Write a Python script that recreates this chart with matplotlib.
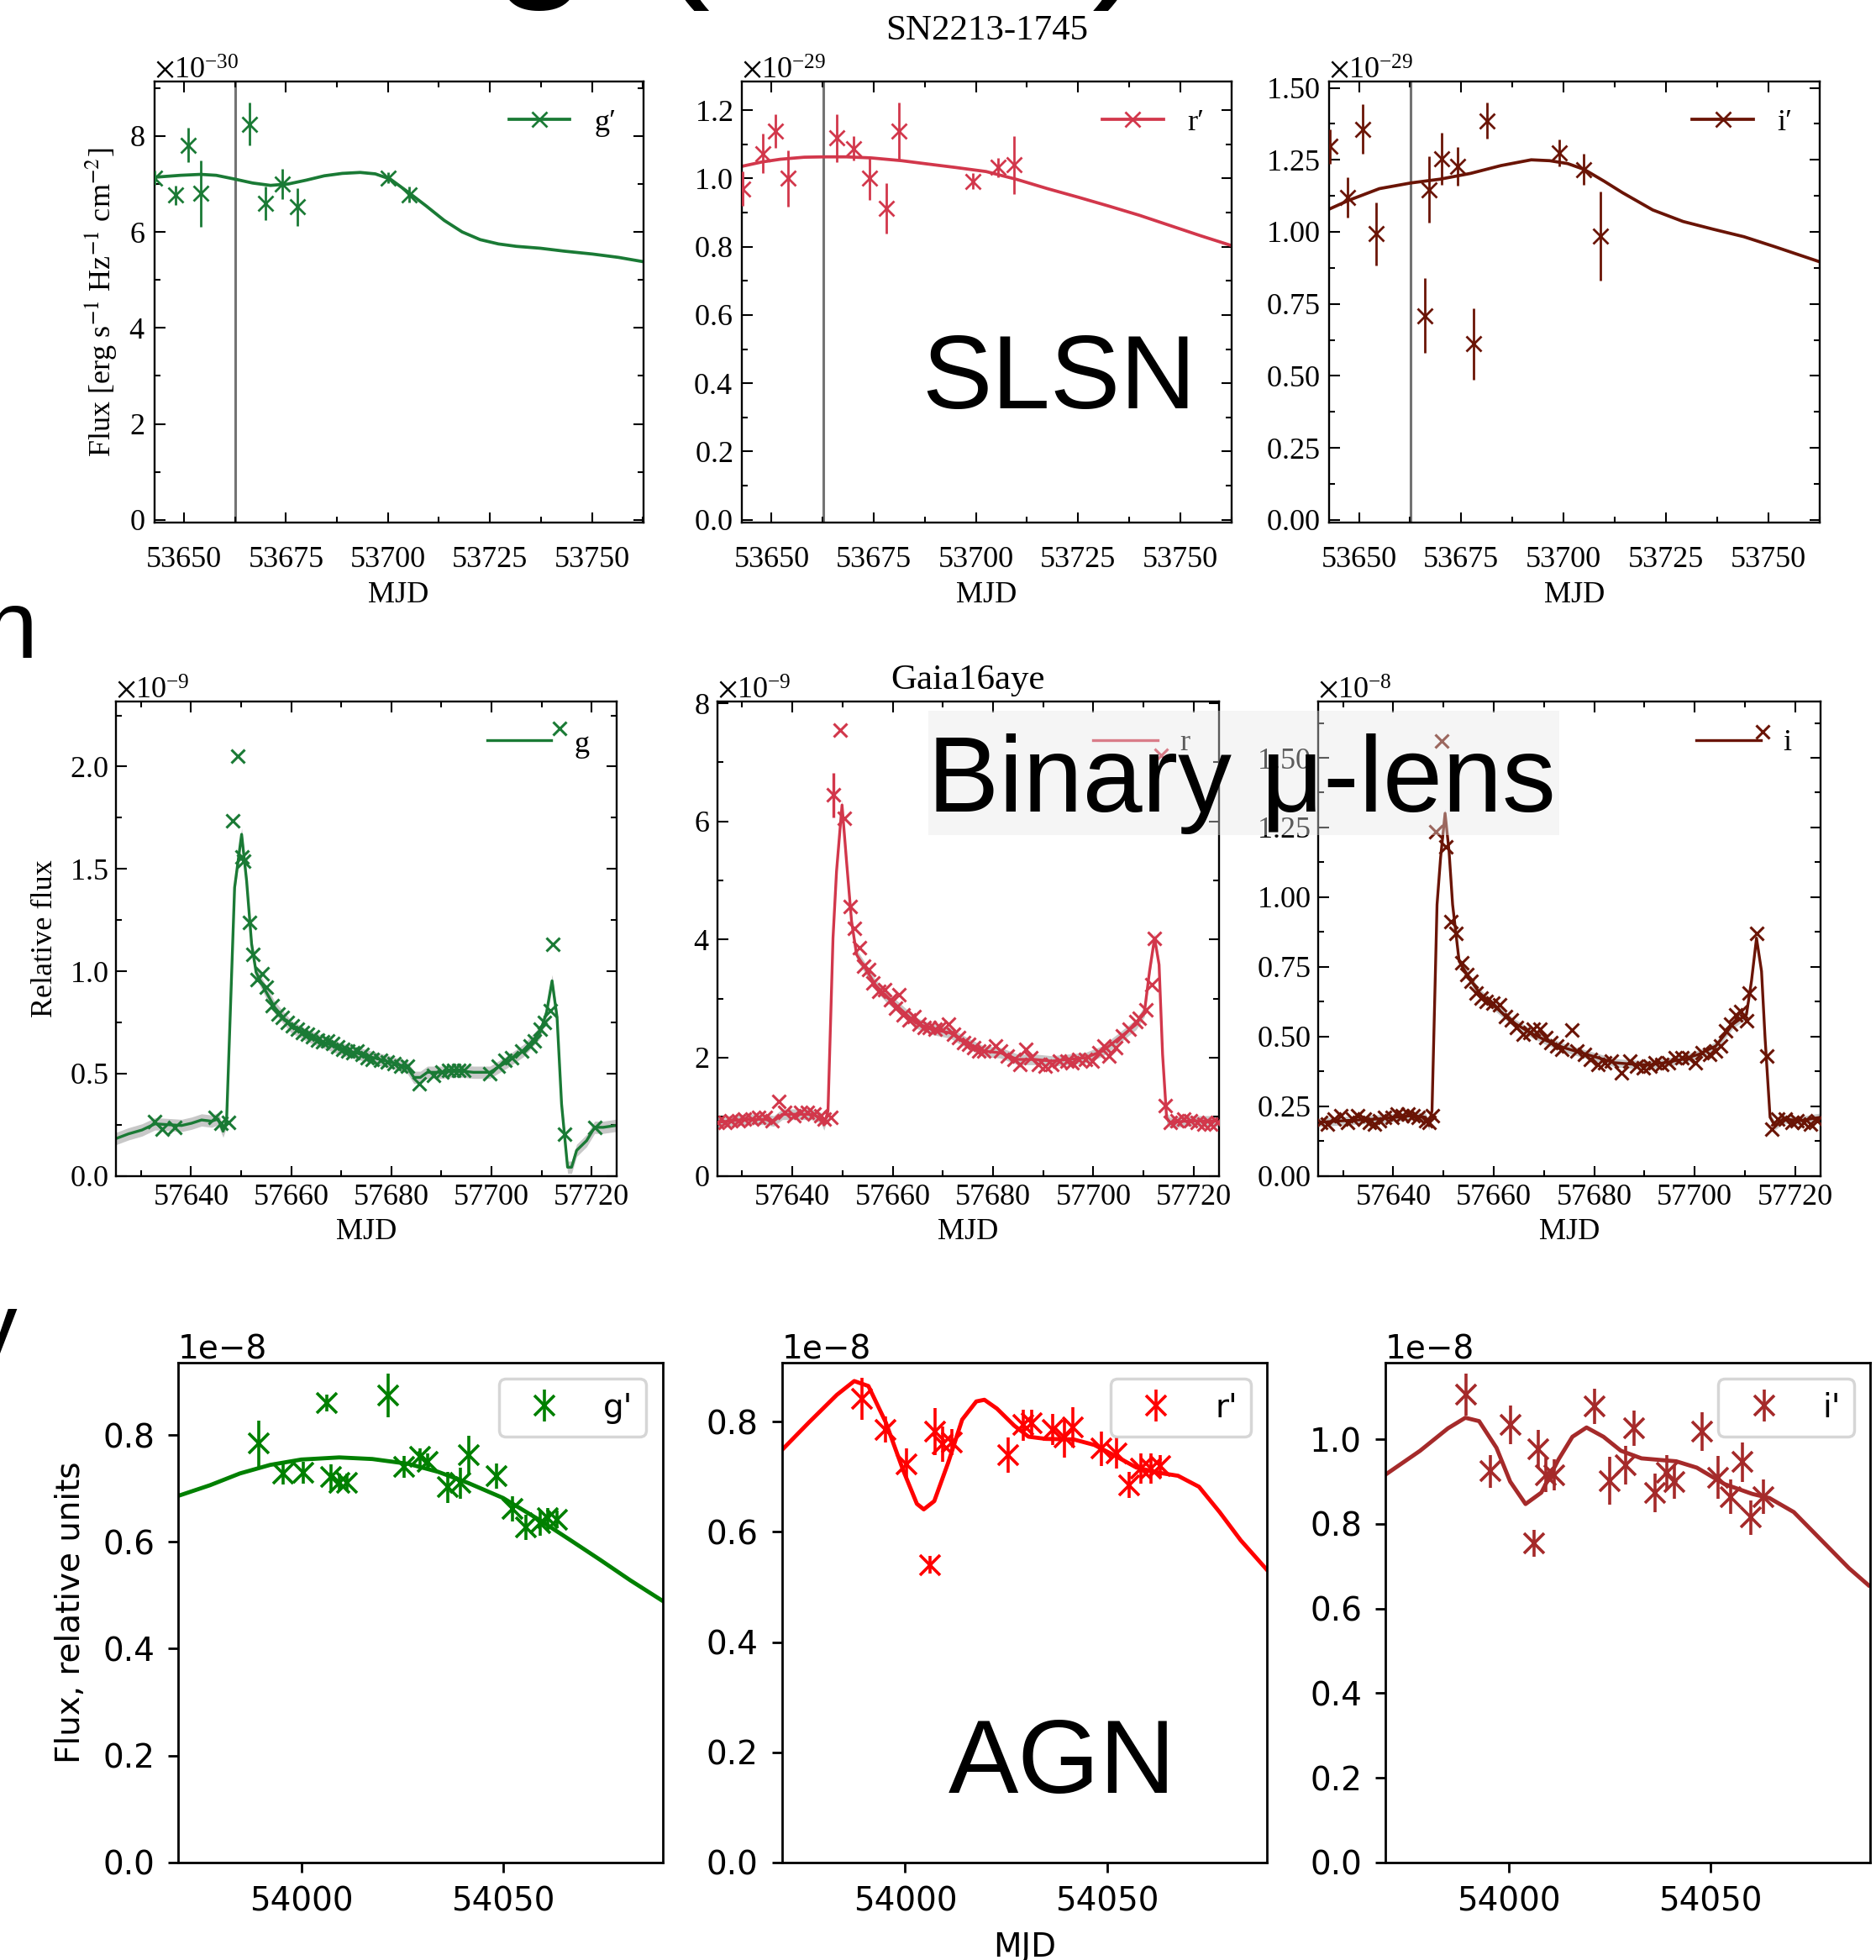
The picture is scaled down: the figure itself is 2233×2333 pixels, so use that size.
import numpy as np
import matplotlib
matplotlib.use('Agg')
import matplotlib.pyplot as plt
from matplotlib.ticker import MultipleLocator, ScalarFormatter
from matplotlib.lines import Line2D
from matplotlib.patches import Rectangle

plt.rcParams['font.family'] = ['Liberation Serif', 'DejaVu Serif']
plt.rcParams['mathtext.fontset'] = 'stix'
plt.rcParams['axes.formatter.useoffset'] = False
plt.rcParams['axes.unicode_minus'] = True

# ---------------- Row 1: SN2213-1745 (SLSN) ----------------
sn_explosion_mjd = 53662.6
g1_mjd = [53642.8, 53647.9, 53651.0, 53654.1, 53666.0, 53670.0, 53674.0, 53677.9, 53700.0, 53705.1]
g1_flux = [7.13, 6.77, 7.81, 6.80, 8.25, 6.60, 7.00, 6.52, 7.13, 6.78]
g1_err = [0.15, 0.20, 0.36, 0.69, 0.45, 0.35, 0.32, 0.40, 0.12, 0.16]
g1_model_mjd = [53642.8, 53649.1, 53654.1, 53657.9, 53662.5, 53666.8, 53671.2, 53675.6, 53680.0, 53684.4,
                53688.8, 53693.2, 53696.9, 53700.6, 53705.1, 53709.4, 53713.8, 53718.2, 53722.6, 53727.1,
                53731.5, 53737.4, 53743.2, 53750.1, 53756.5, 53762.6]
g1_model = [7.14, 7.18, 7.20, 7.18, 7.10, 7.02, 6.97, 7.00, 7.08, 7.17, 7.22, 7.24, 7.21, 7.10, 6.82, 6.54,
            6.24, 6.00, 5.84, 5.75, 5.70, 5.66, 5.60, 5.54, 5.47, 5.38]

r1_mjd = [53642.9, 53647.8, 53650.9, 53654.0, 53666.0, 53670.0, 53674.0, 53678.0, 53681.2, 53699.2, 53705.4, 53709.4]
r1_flux = [0.97, 1.073, 1.139, 1.0, 1.118, 1.088, 1.0, 0.913, 1.139, 0.992, 1.032, 1.04]
r1_err = [0.05, 0.058, 0.05, 0.082, 0.07, 0.036, 0.062, 0.074, 0.083, 0.023, 0.028, 0.085]
r1_model_mjd = [53642.6, 53647.6, 53652.1, 53658.0, 53662.7, 53668.3, 53674.3, 53681.7, 53687.6, 53695.0,
                53702.5, 53710.0, 53717.5, 53725.0, 53732.5, 53740.0, 53747.5, 53755.0, 53763.4]
r1_model = [1.035, 1.048, 1.056, 1.062, 1.063, 1.063, 1.060, 1.052, 1.043, 1.032, 1.020, 0.997, 0.970,
            0.945, 0.919, 0.892, 0.862, 0.832, 0.800]

i1_mjd = [53642.9, 53647.2, 53651.0, 53654.2, 53666.2, 53667.1, 53670.2, 53674.2, 53678.0, 53681.2, 53699.0, 53705.0, 53709.0]
i1_flux = [1.297, 1.120, 1.357, 0.993, 0.709, 1.147, 1.254, 1.227, 0.611, 1.386, 1.273, 1.217, 0.985]
i1_err = [0.06, 0.07, 0.087, 0.11, 0.13, 0.116, 0.09, 0.067, 0.123, 0.063, 0.047, 0.055, 0.154]
i1_model_mjd = [53642.9, 53647.6, 53655.0, 53662.8, 53669.9, 53677.3, 53684.7, 53692.1, 53696.6, 53701.0,
                53705.0, 53709.9, 53714.4, 53721.8, 53729.2, 53736.6, 53744.1, 53751.5, 53762.6]
i1_model = [1.080, 1.110, 1.150, 1.170, 1.183, 1.203, 1.230, 1.250, 1.247, 1.237, 1.217, 1.176, 1.136,
            1.076, 1.036, 1.009, 0.983, 0.949, 0.896]

# ---------------- Row 2: Gaia16aye (binary microlens) ----------------
g2_mjd = [57632.8, 57634.2, 57636.7, 57644.8, 57645.9, 57647.5, 57648.3, 57649.4, 57650.1, 57650.5,
          57651.6, 57652.4, 57653.2, 57654.2, 57655.1, 57656.2, 57657.4, 57658.3, 57659.3, 57660.3,
          57661.3, 57662.3, 57663.3, 57664.3, 57665.3, 57666.3, 57667.3, 57668.3, 57669.3, 57670.3,
          57671.3, 57672.3, 57673.2, 57674.2, 57675.2, 57676.2, 57677.9, 57679.2, 57680.5, 57681.9,
          57683.2, 57685.5, 57688.5, 57690.1, 57691.5, 57692.5, 57693.4, 57694.4, 57699.7, 57701.4,
          57702.7, 57704.0, 57706.0, 57707.7, 57708.5, 57709.7, 57710.5, 57711.7, 57712.3, 57714.6, 57720.6]
g2_flux = [0.267, 0.229, 0.237, 0.286, 0.257, 0.262, 1.734, 2.051, 1.558, 1.539,
           1.238, 1.083, 0.961, 0.986, 0.921, 0.831, 0.790, 0.774, 0.750, 0.734,
           0.717, 0.701, 0.693, 0.680, 0.664, 0.657, 0.660, 0.647, 0.631, 0.620,
           0.612, 0.603, 0.612, 0.595, 0.579, 0.571, 0.563, 0.555, 0.547, 0.538,
           0.538, 0.449, 0.490, 0.506, 0.514, 0.517, 0.514, 0.514, 0.498, 0.538,
           0.563, 0.579, 0.612, 0.636, 0.660, 0.717, 0.750, 0.807, 1.132, 0.205, 0.237]
g2_model_mjd = [57624.9, 57627.5, 57630.2, 57632.8, 57635.5, 57638.1, 57640.1, 57642.1, 57644.1, 57645.4,
                57646.4, 57647.1, 57648.7, 57650.1, 57651.1, 57652.1, 57653.0, 57654.7, 57656.7, 57660.0,
                57663.3, 57666.6, 57669.9, 57673.2, 57676.6, 57679.9, 57683.2, 57684.5, 57685.8, 57687.2,
                57689.8, 57693.1, 57696.4, 57699.7, 57703.0, 57706.4, 57709.7, 57711.0, 57712.1, 57713.1,
                57714.0, 57715.2, 57716.0, 57717.0, 57719.0, 57720.6, 57722.3, 57724.8]
g2_model = [0.181, 0.205, 0.224, 0.254, 0.250, 0.246, 0.257, 0.273, 0.267, 0.278,
            0.218, 0.270, 1.409, 1.669, 1.441, 1.132, 0.994, 0.912, 0.823, 0.729,
            0.685, 0.652, 0.620, 0.599, 0.576, 0.555, 0.530, 0.481, 0.481, 0.506,
            0.506, 0.514, 0.506, 0.506, 0.555, 0.612, 0.701, 0.799, 0.953, 0.774,
            0.351, 0.042, 0.042, 0.124, 0.172, 0.237, 0.237, 0.246]
g2_band = 0.03

r2_mjd = [57625.1, 57626.5, 57627.8, 57629.2, 57630.5, 57631.9, 57633.2, 57634.6, 57636.0, 57637.3,
          57638.4, 57640.3, 57641.7, 57643.0, 57644.4, 57645.7, 57646.4, 57647.6, 57648.1, 57649.5,
          57650.3, 57651.5, 57652.3, 57653.3, 57654.2, 57655.2, 57656.0, 57657.2, 57658.4, 57659.6,
          57660.6, 57661.3, 57662.1, 57663.3, 57664.3, 57665.3, 57666.3, 57667.3, 57668.4, 57669.4,
          57671.1, 57672.1, 57673.1, 57674.1, 57675.1, 57676.1, 57677.1, 57678.1, 57680.5, 57681.5,
          57682.9, 57684.2, 57685.4, 57686.6, 57687.6, 57689.0, 57690.3, 57691.7, 57693.3, 57694.7,
          57695.7, 57697.1, 57698.4, 57699.8, 57701.1, 57702.1, 57703.1, 57704.5, 57705.8, 57707.2,
          57708.5, 57709.2, 57710.4, 57711.7, 57712.2, 57714.3, 57715.3, 57716.6, 57718.0, 57719.3,
          57720.7, 57722.0, 57723.4, 57724.7]
r2_flux = [0.901, 0.901, 0.929, 0.929, 0.957, 0.957, 0.985, 0.985, 0.929, 1.267,
           1.070, 1.014, 1.070, 1.070, 1.042, 1.014, 0.957, 0.985, 6.447, 7.545,
           6.053, 4.561, 4.195, 3.857, 3.547, 3.491, 3.266, 3.125, 3.153, 2.984,
           2.843, 3.069, 2.731, 2.646, 2.703, 2.562, 2.506, 2.506, 2.477, 2.506,
           2.562, 2.393, 2.337, 2.252, 2.224, 2.168, 2.111, 2.111, 2.196, 2.111,
           2.027, 1.971, 1.886, 2.140, 1.999, 1.886, 1.858, 1.886, 1.943, 1.943,
           1.914, 1.971, 1.971, 1.943, 2.083, 2.196, 2.027, 2.168, 2.365, 2.477,
           2.618, 2.675, 2.815, 3.238, 4.026, 1.182, 0.901, 0.929, 0.957, 0.929,
           0.901, 0.873, 0.873, 0.901]
r2_bigerr_mjd = [57648.1]
r2_bigerr_flux = [6.447]
r2_bigerr = [0.38]
r2_model_mjd = [57624.8, 57627.5, 57630.9, 57634.3, 57636.3, 57638.0, 57641.0, 57643.7, 57645.7, 57646.3,
                57647.1, 57648.1, 57648.8, 57649.9, 57650.8, 57651.8, 57652.8, 57654.5, 57656.5, 57658.6,
                57661.3, 57664.6, 57668.0, 57671.4, 57674.8, 57678.1, 57681.5, 57684.9, 57688.3, 57691.7,
                57695.0, 57698.4, 57701.8, 57705.2, 57708.5, 57710.2, 57711.2, 57712.2, 57713.1, 57713.8,
                57714.6, 57715.3, 57718.7, 57722.0, 57725.1]
r2_model = [0.901, 0.929, 0.957, 0.957, 0.929, 1.042, 1.042, 1.042, 0.985, 0.861,
            1.098, 4.026, 5.152, 6.278, 5.321, 4.307, 3.744, 3.519, 3.238, 3.041,
            2.843, 2.590, 2.477, 2.421, 2.252, 2.111, 2.083, 1.971, 1.971, 1.943,
            1.971, 1.999, 2.111, 2.337, 2.562, 2.787, 3.463, 4.026, 3.575, 2.055,
            0.985, 0.901, 0.929, 0.929, 0.929]
r2_band = 0.09

i2_mjd = [57625.5, 57626.9, 57628.2, 57629.6, 57630.9, 57631.9, 57632.9, 57634.3, 57635.3, 57636.3,
          57637.3, 57638.3, 57639.7, 57640.7, 57641.7, 57643.0, 57644.0, 57645.0, 57646.4, 57647.1,
          57647.7, 57648.4, 57649.6, 57650.4, 57651.4, 57652.4, 57653.6, 57654.6, 57655.5, 57656.5,
          57657.5, 57658.5, 57659.8, 57661.2, 57662.4, 57663.5, 57664.5, 57665.9, 57667.1, 57667.9,
          57669.2, 57670.3, 57671.4, 57672.6, 57673.6, 57675.6, 57676.6, 57678.0, 57679.3, 57680.7,
          57682.0, 57683.4, 57685.4, 57687.1, 57688.4, 57689.7, 57691.1, 57692.1, 57693.4, 57694.8,
          57696.1, 57697.5, 57698.8, 57700.2, 57701.5, 57702.9, 57704.2, 57705.2, 57706.2, 57707.2,
          57708.2, 57709.2, 57710.3, 57710.9, 57712.3, 57714.3, 57715.3, 57716.6, 57718.0, 57719.3,
          57720.3, 57721.7, 57723.0, 57724.4]
i2_flux = [0.192, 0.186, 0.204, 0.216, 0.192, 0.204, 0.216, 0.204, 0.192, 0.186,
           0.198, 0.210, 0.210, 0.222, 0.216, 0.222, 0.216, 0.210, 0.198, 0.192,
           0.216, 1.235, 1.559, 1.181, 0.913, 0.871, 0.764, 0.722, 0.699, 0.657,
           0.639, 0.627, 0.621, 0.615, 0.573, 0.561, 0.532, 0.508, 0.514, 0.526,
           0.526, 0.496, 0.478, 0.466, 0.454, 0.522, 0.448, 0.436, 0.418, 0.401,
           0.406, 0.412, 0.371, 0.412, 0.395, 0.389, 0.395, 0.406, 0.401, 0.406,
           0.424, 0.424, 0.424, 0.406, 0.442, 0.436, 0.448, 0.466, 0.520, 0.544,
           0.579, 0.591, 0.555, 0.657, 0.871, 0.430, 0.168, 0.204, 0.204, 0.192,
           0.198, 0.192, 0.186, 0.198]
i2_model_mjd = [57625.0, 57630.3, 57637.0, 57643.7, 57646.4, 57647.1, 57647.7, 57648.7, 57649.4, 57650.3,
                57651.1, 57651.8, 57653.1, 57655.1, 57657.1, 57660.5, 57663.9, 57667.2, 57670.6, 57673.9,
                57677.3, 57680.7, 57684.0, 57687.4, 57690.8, 57694.1, 57697.5, 57700.8, 57704.2, 57707.6,
                57710.3, 57711.3, 57712.3, 57713.3, 57714.0, 57715.0, 57716.0, 57717.6, 57721.0, 57725.0]
i2_model = [0.192, 0.198, 0.204, 0.216, 0.210, 0.180, 0.234, 0.973, 1.140, 1.301,
            1.163, 0.973, 0.770, 0.710, 0.657, 0.603, 0.550, 0.514, 0.484, 0.460,
            0.442, 0.424, 0.406, 0.401, 0.398, 0.406, 0.418, 0.436, 0.466, 0.544,
            0.579, 0.699, 0.853, 0.734, 0.496, 0.210, 0.180, 0.204, 0.198, 0.210]
i2_band = 0.015

# ---------------- Row 3: AGN ----------------
g3_mjd = [53989.4, 53995.4, 54000.4, 54006.4, 54007.3, 54009.4, 54011.3, 54021.6, 54025.4, 54029.5,
          54031.3, 54036.2, 54039.4, 54041.5, 54048.4, 54052.4, 54055.7, 54059.2, 54061.0, 54063.4]
g3_flux = [0.784, 0.728, 0.729, 0.860, 0.721, 0.711, 0.711, 0.874, 0.740, 0.759,
           0.750, 0.702, 0.710, 0.762, 0.723, 0.662, 0.627, 0.635, 0.644, 0.642]
g3_err = [0.043, 0.02, 0.02, 0.016, 0.024, 0.016, 0.016, 0.041, 0.02, 0.016,
          0.016, 0.029, 0.029, 0.037, 0.024, 0.024, 0.024, 0.024, 0.02, 0.016]
g3_model_mjd = [53969.5, 53977.4, 53984.8, 53992.3, 54000.0, 54009.4, 54017.6, 54026.5, 54033.9, 54041.4,
                54050.0, 54059.2, 54066.7, 54074.1, 54081.5, 54089.6]
g3_model = [0.686, 0.706, 0.728, 0.744, 0.754, 0.758, 0.755, 0.746, 0.731, 0.710,
            0.682, 0.640, 0.603, 0.566, 0.528, 0.489]

r3_mjd = [53989.4, 53995.1, 54000.3, 54006.2, 54007.3, 54009.3, 54011.5, 54025.4, 54029.3, 54031.4,
          54036.4, 54039.4, 54041.4, 54048.5, 54052.2, 54055.5, 54058.4, 54060.8, 54063.2]
r3_flux = [0.842, 0.786, 0.723, 0.540, 0.782, 0.759, 0.763, 0.739, 0.794, 0.798,
           0.786, 0.771, 0.790, 0.751, 0.743, 0.685, 0.715, 0.715, 0.719]
r3_err = [0.038, 0.024, 0.028, 0.016, 0.043, 0.032, 0.024, 0.032, 0.028, 0.024,
          0.028, 0.036, 0.036, 0.032, 0.028, 0.024, 0.028, 0.028, 0.02]
r3_model_mjd = [53969.4, 53976.2, 53983.1, 53987.4, 53990.9, 53995.2, 53999.5, 54002.9, 54004.6, 54007.2,
                54010.7, 54014.1, 54017.6, 54019.6, 54022.7, 54027.0, 54030.5, 54034.8, 54041.7, 54046.8,
                54052.0, 54057.2, 54063.2, 54067.5, 54072.7, 54077.8, 54083.0, 54089.4]
r3_model = [0.748, 0.799, 0.849, 0.874, 0.865, 0.799, 0.712, 0.651, 0.641, 0.656,
            0.727, 0.804, 0.837, 0.840, 0.824, 0.793, 0.773, 0.769, 0.768, 0.758,
            0.738, 0.717, 0.707, 0.702, 0.682, 0.636, 0.585, 0.532]

i3_mjd = [53989.4, 53995.4, 54000.4, 54006.3, 54007.3, 54009.3, 54011.2, 54021.3, 54025.0, 54029.0,
          54031.0, 54036.2, 54039.2, 54041.0, 54047.9, 54051.9, 54054.9, 54057.9, 54060.0, 54063.0]
i3_flux = [1.106, 0.924, 1.034, 0.754, 0.977, 0.916, 0.916, 1.078, 0.902, 0.939,
           1.026, 0.874, 0.921, 0.900, 1.018, 0.910, 0.864, 0.946, 0.815, 0.864]
i3_err = [0.05, 0.039, 0.046, 0.031, 0.046, 0.041, 0.036, 0.041, 0.057, 0.046,
          0.041, 0.046, 0.041, 0.041, 0.046, 0.051, 0.041, 0.046, 0.041, 0.041]
i3_model_mjd = [53969.6, 53978.1, 53985.0, 53989.3, 53992.7, 53997.0, 54000.4, 54004.2, 54008.1, 54012.4,
                54015.8, 54019.3, 54023.5, 54027.8, 54032.9, 54041.5, 54046.6, 54053.5, 54060.3, 54064.6,
                54070.6, 54077.5, 54084.3, 54089.1]
i3_model = [0.917, 0.973, 1.026, 1.051, 1.043, 0.980, 0.900, 0.847, 0.874, 0.953,
            1.006, 1.028, 1.006, 0.973, 0.955, 0.948, 0.933, 0.894, 0.871, 0.861,
            0.828, 0.761, 0.695, 0.655]

# ---------------- styling ----------------
C_G, C_R, C_I = '#1a7a35', '#d2374b', '#6a1405'
SERIF_FS = 26
SERIF = ['Liberation Serif', 'DejaVu Serif']
SANS = 'DejaVu Sans'
BIG = 'Liberation Sans'

fig = plt.figure(figsize=(22.33, 23.33), dpi=100)
W, H = 2233.0, 2333.0


def add_ax(l, t, r, b):
    return fig.add_axes([l / W, 1 - b / H, (r - l) / W, (b - t) / H])


def style_serif(ax, xmaj, xmin, ymaj, ymin, xpad, ypad):
    ax.xaxis.set_major_locator(MultipleLocator(xmaj))
    ax.xaxis.set_minor_locator(MultipleLocator(xmin))
    ax.yaxis.set_major_locator(MultipleLocator(ymaj))
    ax.yaxis.set_minor_locator(MultipleLocator(ymin))
    ax.tick_params(which='both', direction='in', top=True, right=True, width=1.5,
                   labelsize=SERIF_FS)
    ax.tick_params(which='major', length=9)
    ax.tick_params(which='minor', length=4.8)
    ax.tick_params(axis='x', pad=xpad)
    ax.tick_params(axis='y', pad=ypad)
    for s in ax.spines.values():
        s.set_linewidth(1.7)
    fmt = ScalarFormatter(useMathText=True)
    fmt.set_useOffset(False)
    ax.yaxis.set_major_formatter(fmt)
    ax.yaxis.get_offset_text().set_fontsize(SERIF_FS)


# ---- Row 1 ----
row1_rects = [(183.6, 97.3, 765.7, 622), (883, 97.3, 1466, 622), (1582, 97.3, 2166, 622)]
row1_data = [
    (g1_mjd, g1_flux, g1_err, g1_model_mjd, g1_model, C_G, "g′", 1e-30, (-0.056, 9.13), 2, 1),
    (r1_mjd, r1_flux, r1_err, r1_model_mjd, r1_model, C_R, "r′", 1e-29, (-0.008, 1.283), 0.2, 0.1),
    (i1_mjd, i1_flux, i1_err, i1_model_mjd, i1_model, C_I, "i′", 1e-29, (-0.009, 1.521), 0.25, 0.125),
]
for k, (rect, d) in enumerate(zip(row1_rects, row1_data)):
    mjd, flux, err, mm, mf, col, lab, sc, ylim, ymaj, ymin = d
    ax = add_ax(*rect)
    ax.axvline(sn_explosion_mjd, color='0.45', lw=2.2, zorder=1)
    ax.plot(mm, np.array(mf) * sc, color=col, lw=2.7, zorder=2, solid_joinstyle='round')
    ax.errorbar(mjd, np.array(flux) * sc, yerr=np.array(err) * sc, fmt='x', color=col,
                ms=13, mew=2, elinewidth=2, capsize=0, zorder=3)
    ax.set_xlim(53642.7, 53762.6)
    ax.set_ylim(ylim[0] * sc, ylim[1] * sc)
    style_serif(ax, 25, 12.5, ymaj * sc, ymin * sc, 20, 8)
    proxy = Line2D([], [], color=col, lw=2.7, marker='x', ms=13, mew=2)
    ax.legend(handles=[proxy], labels=[lab], loc='upper right', frameon=False,
              prop={'family': SERIF, 'size': SERIF_FS})
    ax.set_xlabel('MJD', fontsize=SERIF_FS)
    ax.xaxis.set_label_coords(0.5, -0.1334)
    if k == 0:
        ax.set_ylabel(r'Flux [erg s$^{-1}$ Hz$^{-1}$ cm$^{-2}$]', fontsize=SERIF_FS)
        ax.yaxis.set_label_coords(-0.073, 0.5)

fig.text(1174.5 / W, 1 - 47 / H, 'SN2213-1745', ha='center', va='baseline', fontsize=31)

# ---- Row 2 ----
row2_rects = [(138, 835, 734, 1399.6), (853.6, 835, 1450.7, 1399.6), (1568.8, 835, 2166.7, 1399.6)]
row2_data = [
    (g2_mjd, g2_flux, g2_model_mjd, g2_model, g2_band, C_G, 'g', 1e-9, (0, 2.318), 0.5, 0.25),
    (r2_mjd, r2_flux, r2_model_mjd, r2_model, r2_band, C_R, 'r', 1e-9, (0, 8.03), 2, 1),
    (i2_mjd, i2_flux, i2_model_mjd, i2_model, i2_band, C_I, 'i', 1e-8, (0, 1.702), 0.25, 0.125),
]
legend_pos = [
    ((0.742, 0.869), 0.9185, (0.8856, 0.9433), (0.9154, 0.8937)),
    ((0.749, 0.879), 0.9185, (0.8856, 0.8868), (0.9226, 0.8975)),
    ((0.7526, 0.881), 0.9185, (0.8858, 0.936), (0.926, 0.8975)),
]
for k, (rect, d, lp) in enumerate(zip(row2_rects, row2_data, legend_pos)):
    mjd, flux, mm, mf, band, col, lab, sc, ylim, ymaj, ymin = d
    ax = add_ax(*rect)
    mf = np.array(mf)
    ax.fill_between(mm, (mf - band) * sc, (mf + band) * sc, color='#c8c8c8', lw=0, zorder=1)
    ax.plot(mm, mf * sc, color=col, lw=2.4, zorder=2)
    ax.plot(mjd, np.array(flux) * sc, 'x', color=col, ms=12, mew=2.2, zorder=3)
    if k == 1:
        ax.errorbar(r2_bigerr_mjd, np.array(r2_bigerr_flux) * sc, yerr=np.array(r2_bigerr) * sc,
                    fmt='none', ecolor=col, elinewidth=2.4, capsize=0, zorder=3)
    ax.set_xlim(57625, 57725)
    ax.set_ylim(ylim[0] * sc, ylim[1] * sc)
    style_serif(ax, 20, 10, ymaj * sc, ymin * sc, 6.6, 6.5)
    # legend-like key (line with offset marker, as in the original)
    (lx0, lx1), ly, (mx, my), (tx, ty) = lp
    ax.add_artist(Line2D([lx0, lx1], [ly, ly], transform=ax.transAxes, color=col, lw=2.4))
    ax.add_artist(Line2D([mx], [my], transform=ax.transAxes, color=col, ls='none',
                         marker='x', ms=12, mew=2.2))
    ax.text(tx, ty, lab, transform=ax.transAxes, fontsize=SERIF_FS, va='baseline', ha='left')
    ax.set_xlabel('MJD', fontsize=SERIF_FS)
    ax.xaxis.set_label_coords(0.5, -0.0886)
    if k == 0:
        ax.set_ylabel('Relative flux', fontsize=SERIF_FS)
        ax.yaxis.set_label_coords(-0.114, 0.5)

fig.text(1151.8 / W, 1 - 819.5 / H, 'Gaia16aye', ha='center', va='baseline', fontsize=31)

# ---- Row 3 ----
row3_rects = [(212.1, 1621.6, 788.6, 2216.7), (930.7, 1621.6, 1508, 2216.7), (1649, 1621.6, 2226, 2216.7)]
row3_data = [
    (g3_mjd, g3_flux, g3_err, g3_model_mjd, g3_model, 'green', "g'", 0.936),
    (r3_mjd, r3_flux, r3_err, r3_model_mjd, r3_model, 'red', "r'", 0.908),
    (i3_mjd, i3_flux, i3_err, i3_model_mjd, i3_model, 'brown', "i'", 1.182),
]
for k, (rect, d) in enumerate(zip(row3_rects, row3_data)):
    mjd, flux, err, mm, mf, col, lab, ytop = d
    sc = 1e-8
    ax = add_ax(*rect)
    ax.plot(mm, np.array(mf) * sc, color=col, lw=3.5, zorder=2, solid_joinstyle='round')
    ax.errorbar(mjd, np.array(flux) * sc, yerr=np.array(err) * sc, fmt='x', color=col,
                ms=17, mew=2.6, elinewidth=2.6, capsize=0, label=lab, zorder=3)
    ax.set_xlim(53969.5, 54089.5)
    ax.set_ylim(0, ytop * sc)
    ax.xaxis.set_major_locator(MultipleLocator(50))
    ax.yaxis.set_major_locator(MultipleLocator(0.2 * sc))
    ax.tick_params(which='major', direction='out', length=8.6, width=2, pad=11.5,
                   labelsize=28, labelfontfamily=SANS)
    for s in ax.spines.values():
        s.set_linewidth(2)
    fmt = ScalarFormatter(useMathText=False)
    fmt.set_useOffset(False)
    fmt.set_powerlimits((-8, -8))
    ax.yaxis.set_major_formatter(fmt)
    ot = ax.yaxis.get_offset_text()
    ot.set_fontsize(28)
    ot.set_fontfamily(SANS)
    leg = ax.legend(loc='upper right', prop={'family': SANS, 'size': 28}, edgecolor='0.8')
    leg.get_frame().set_linewidth(2.5)
    if k == 1:
        ax.set_xlabel('MJD', fontsize=28, fontfamily=SANS)
        ax.xaxis.set_label_coords(0.5, -0.138)
    if k == 0:
        ax.set_ylabel('Flux, relative units', fontsize=28, fontfamily=SANS)
        ax.yaxis.set_label_coords(-0.189, 0.5)

# ---- big class labels ----
fig.text(1097 / W, 1 - 485.8 / H, 'SLSN', fontsize=90, family=BIG, va='baseline', ha='left')
fig.add_artist(Rectangle((1105 / W, 1 - 994 / H), (1856 - 1105) / W, 148 / H,
                         transform=fig.transFigure, facecolor='#e6e6e6', edgecolor='none',
                         alpha=0.4, zorder=5))
fig.text(1104 / W, 1 - 966 / H, 'Binary μ-lens', fontsize=92, family=BIG, va='baseline', ha='left',
         zorder=6)
fig.text(1129 / W, 1 - 2134 / H, 'AGN', fontsize=90, family=BIG, va='baseline', ha='left')

# ---- cropped fragments of larger lettering at the edges ----
fig.text(585 / W, 1 + 30 / H, 'g', fontsize=150, family=BIG, va='baseline', ha='left')
fig.text(775 / W, 1 + 30 / H, '(', fontsize=150, family=BIG, va='baseline', ha='left')
fig.text(1300 / W, 1 + 30 / H, ')', fontsize=150, family=BIG, va='baseline', ha='left')
fig.text(44 / W, 1 - 783 / H, 'n', fontsize=83, family=BIG, va='baseline', ha='right')
fig.text(20 / W, 1 - 1619 / H, 'y', fontsize=83, family=BIG, va='baseline', ha='right')

fig.savefig('out.png', dpi=100)
